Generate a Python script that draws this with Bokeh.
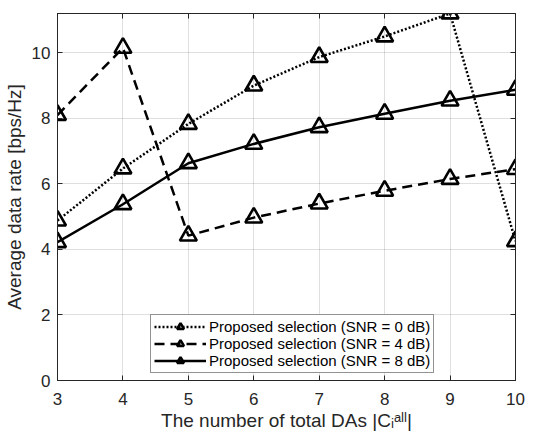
from bokeh.plotting import figure
from bokeh.models import (Range1d, LinearAxis, Legend, LegendItem,
                          FixedTicker, CustomLabelingPolicy)
from bokeh.embed import file_html
from bokeh.resources import INLINE

# ---- data ----
num_das = [3, 4, 5, 6, 7, 8, 9, 10]
rate_snr0 = [4.88, 6.47, 7.83, 9.00, 9.87, 10.50, 11.20, 4.25]
rate_snr4 = [8.10, 10.15, 4.42, 4.97, 5.40, 5.79, 6.15, 6.45]
rate_snr8 = [4.22, 5.38, 6.63, 7.22, 7.73, 8.14, 8.54, 8.87]
series_labels = ["Proposed selection (SNR = 0 dB)",
                 "Proposed selection (SNR = 4 dB)",
                 "Proposed selection (SNR = 8 dB)"]
x_ticks = [3, 4, 5, 6, 7, 8, 9, 10]
y_ticks = [0, 2, 4, 6, 8, 10]
y_label = "Average data rate [bps/Hz]"
x_label = "The number of total DAs |C\u1d62\u1d43\u02e1\u02e1|"

FONT = "Liberation Sans"
AX = "#262626"

p = figure(width=543, height=433, output_backend="svg", toolbar_location=None,
           x_range=Range1d(3, 10), y_range=Range1d(0, 11.2),
           min_border_left=57, min_border_right=28, min_border_top=13,
           min_border_bottom=53, background_fill_color="white",
           border_fill_color="white")
p.outline_line_color = AX
p.outline_line_width = 1

hide_labels = CustomLabelingPolicy(code="for (const i of indices) indices.unset(i)")


def style_axis(ax, ticks, show_labels=True, standoff=7):
    ax.ticker = FixedTicker(ticks=ticks)
    ax.axis_line_color = AX
    ax.axis_line_width = 1
    ax.major_tick_in = 5
    ax.major_tick_out = 0
    ax.major_tick_line_color = AX
    ax.minor_tick_line_color = None
    ax.major_label_text_font = FONT
    ax.major_label_text_color = AX
    ax.axis_label_text_font = FONT
    ax.axis_label_text_font_size = "19px"
    ax.axis_label_text_font_style = "normal"
    ax.axis_label_text_color = AX
    if show_labels:
        ax.major_label_text_font_size = "17px"
        ax.major_label_standoff = standoff
    else:
        ax.major_label_text_font_size = "1px"
        ax.major_label_standoff = 0
        ax.major_label_policy = hide_labels


style_axis(p.xaxis[0], x_ticks, standoff=12)
style_axis(p.yaxis[0], y_ticks, standoff=7)
p.yaxis[0].axis_label = y_label
p.yaxis[0].axis_label_standoff = 4
p.xaxis[0].axis_label = x_label
p.xaxis[0].axis_label_standoff = 2

top_ax = LinearAxis()
style_axis(top_ax, x_ticks, show_labels=False)
p.add_layout(top_ax, "above")
right_ax = LinearAxis()
style_axis(right_ax, y_ticks, show_labels=False)
p.add_layout(right_ax, "right")

p.xgrid.ticker = FixedTicker(ticks=x_ticks)
p.ygrid.ticker = FixedTicker(ticks=y_ticks)
p.grid.grid_line_color = AX
p.grid.grid_line_alpha = 0.15
p.grid.grid_line_width = 1

styles = [(rate_snr0, "2 2"), (rate_snr4, "10 6"), (rate_snr8, "solid")]
items = []
for (vals, dash), lbl in zip(styles, series_labels):
    ln = p.line(num_das, vals, line_color="black", line_width=2.5, line_dash=dash)
    sc = p.scatter(num_das, vals, marker="triangle", size=17, line_color="black",
                   line_width=2.6, fill_color=None)
    items.append(LegendItem(label=lbl, renderers=[ln, sc]))

legend = Legend(items=items, location=(93, 7), orientation="vertical",
                label_text_font=FONT, label_text_font_size="15px",
                label_text_color="black", border_line_color=AX,
                border_line_width=1, background_fill_color="white",
                background_fill_alpha=1, glyph_width=52, glyph_height=17,
                label_height=17, spacing=0, padding=3, margin=0,
                label_standoff=3)
p.add_layout(legend)

open("out.html", "w").write(file_html(p, INLINE))
